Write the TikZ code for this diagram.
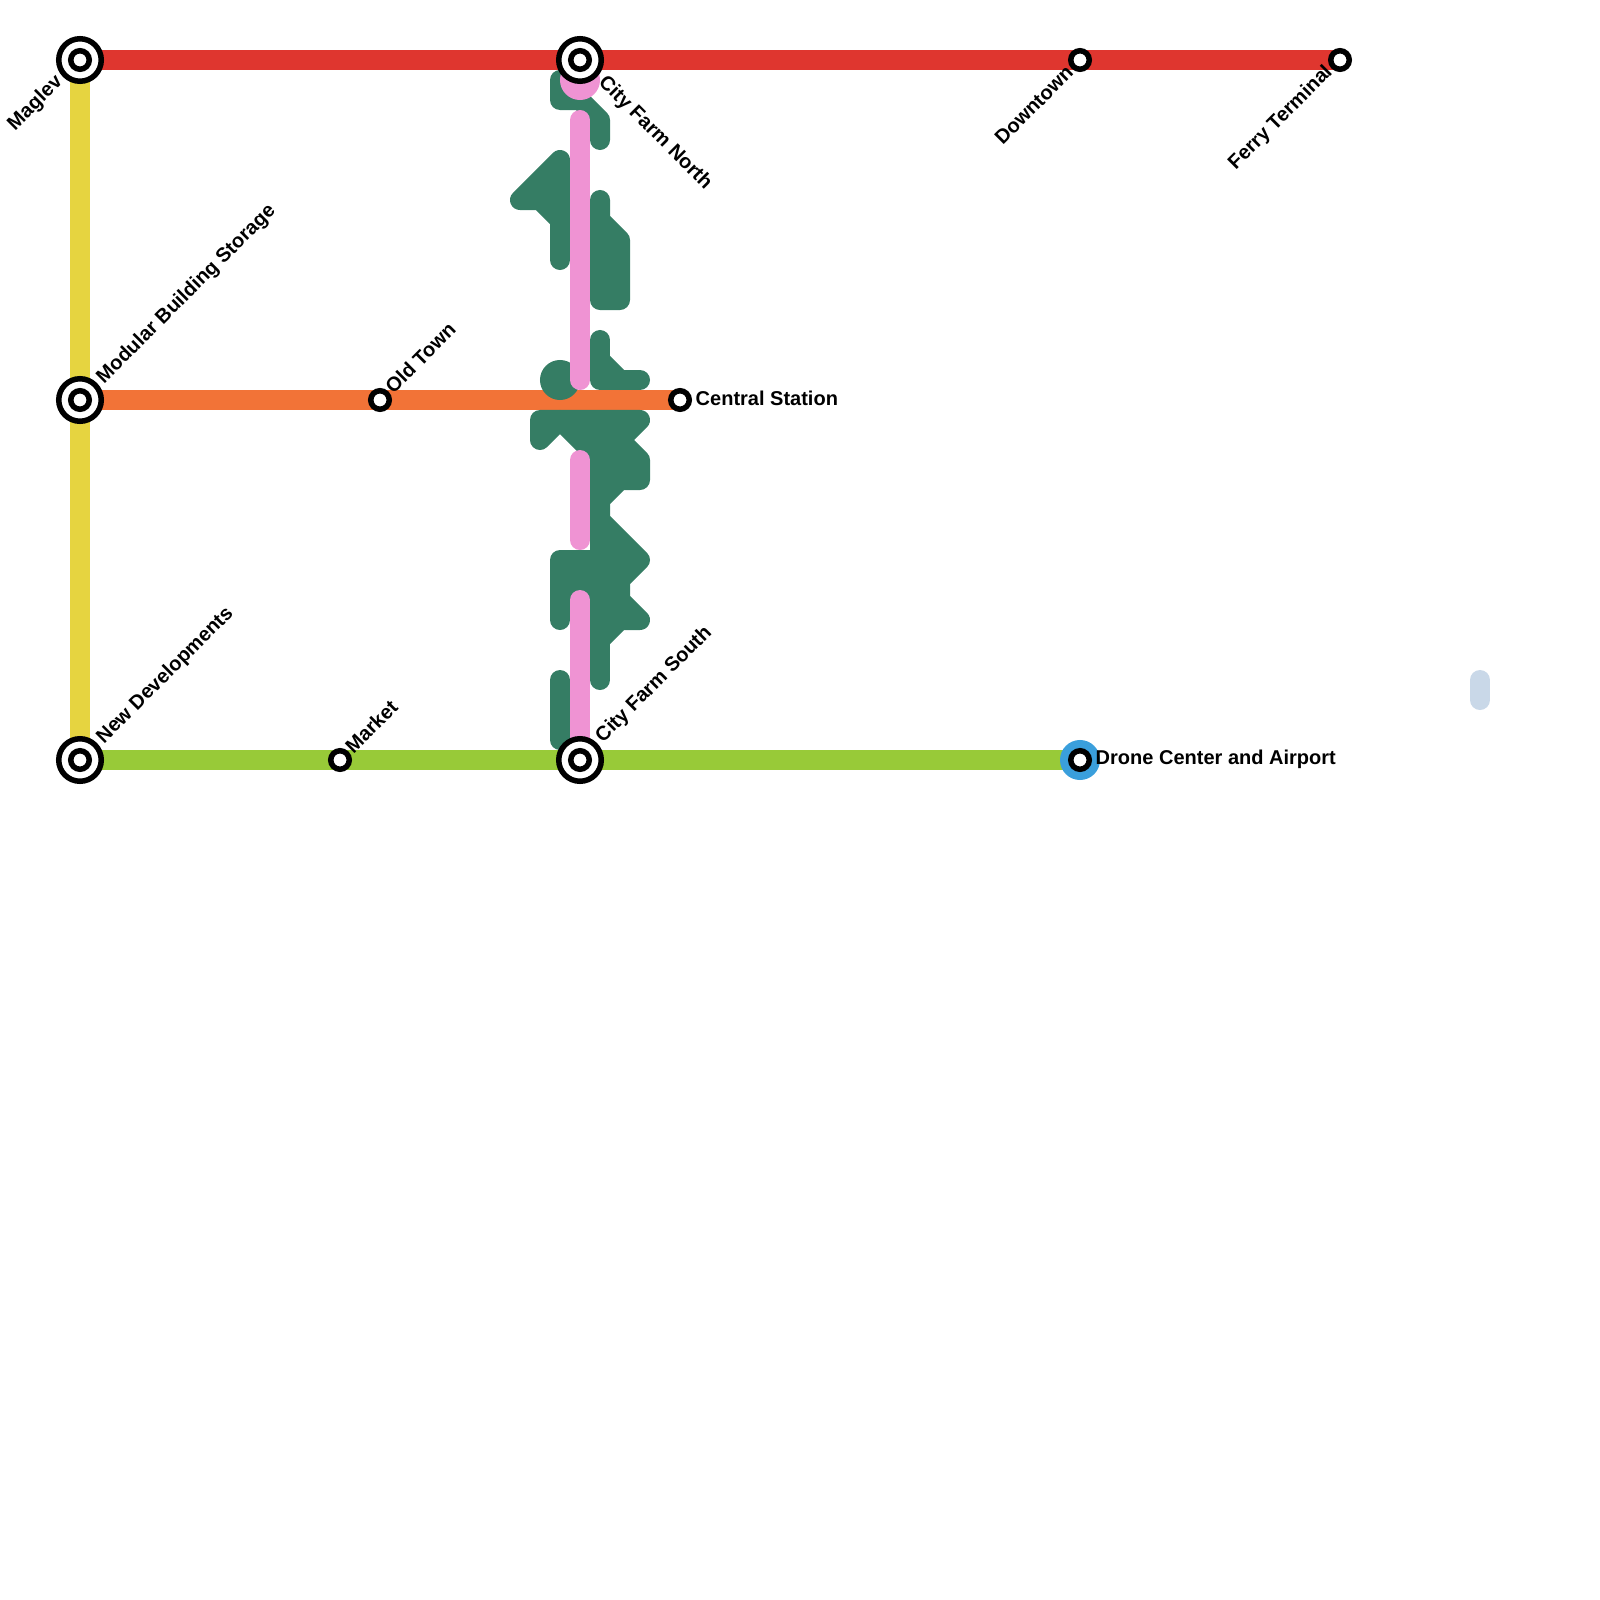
\documentclass[tikz,border=0pt]{standalone}
\usepackage{fontspec}
\setmainfont{Liberation Sans}
\usetikzlibrary{calc}
\definecolor{linered}{HTML}{DF362F}
\definecolor{lineyellow}{HTML}{E6D440}
\definecolor{lineorange}{HTML}{F27337}
\definecolor{linelime}{HTML}{98CA38}
\definecolor{linegreen}{HTML}{357D64}
\definecolor{linepink}{HTML}{EF93D3}
\definecolor{lineblue}{HTML}{3A9FDC}
\definecolor{linepale}{HTML}{C9D8E8}

\begin{document}
\begin{tikzpicture}[
    x=0.01cm, y=-0.01cm,
    metro/.style={line width=0.2cm},
    route/.style={metro, line cap=round, line join=round},
    green/.style={route, linegreen},
    pink/.style={route, linepink},
    hubring/.style={circle, draw=black, fill=white, line width=0.055cm,
        minimum size=0.425cm, inner sep=0pt},
    stop/.style={circle, draw=black, fill=white, line width=0.055cm,
        minimum size=0.185cm, inner sep=0pt},
    stlabel/.style={font=\fontsize{5.69pt}{7pt}\selectfont\bfseries, inner sep=0pt},
    up/.style={stlabel, rotate=45, anchor=west},
    dn/.style={stlabel, rotate=-45, anchor=west},
    back/.style={stlabel, rotate=45, anchor=east}
]
\useasboundingbox (0,0) rectangle (1600,1600);

% stations
\coordinate (maglev) at (80,60);
\coordinate (farmnorth) at (580,60);
\coordinate (downtown) at (1080,60);
\coordinate (ferry) at (1340,60);
\coordinate (modular) at (80,400);
\coordinate (oldtown) at (380,400);
\coordinate (central) at (680,400);
\coordinate (newdev) at (80,760);
\coordinate (market) at (340,760);
\coordinate (farmsouth) at (580,760);
\coordinate (drone) at (1080,760);

% main lines
\draw[metro, lineyellow] (maglev) -- (newdev);
\draw[metro, linered] (maglev) -- (ferry);
\draw[metro, lineorange] (modular) -- (central);
\draw[metro, linelime] (newdev) -- (drone);

% green line pieces
\draw[green] (560,80) -- (560,100) -- (580,100) -- (600,120) -- (600,140);
\draw[green, fill=linegreen] (560,160) -- (520,200) -- (540,200) -- (560,220) -- cycle;
\draw[green] (560,220) -- (560,260);
\draw[green] (600,200) -- (600,300) -- (620,300) -- (620,240) -- (600,220);
\draw[green] (600,340) -- (600,380) -- (640,380);
\draw[green] (600,360) -- (620,380);
\node[circle, fill=linegreen, minimum size=0.4cm, inner sep=0pt] (greendot) at (560,380) {};
\draw[green] (540,440) -- (540,420) -- (560,420) -- (540,440);
\draw[green, fill=linegreen] (560,420) -- (640,420) -- (620,440) -- (640,460) -- (640,480)
    -- (620,480) -- (600,500) -- (600,520) -- (640,560) -- (620,580) -- (620,600)
    -- (640,620) -- (620,620) -- (600,640) -- (600,460) -- cycle;
\draw[green] (560,620) -- (560,560) -- (600,560) -- (600,620) -- (580,620) -- (580,560);
\draw[green] (600,640) -- (600,680);
\draw[green] (560,680) -- (560,740) -- (580,740);

% pink line pieces
\node[circle, fill=linepink, minimum size=0.4cm, inner sep=0pt] (pinkdot) at (580,80) {};
\draw[pink] (580,120) -- (580,380);
\draw[pink] (580,460) -- (580,540);
\draw[pink] (580,600) -- (farmsouth);

% pale stub
\draw[route, linepale] (1480,680) -- (1480,700);

% interchange marks
\node[circle, fill=lineblue, minimum size=0.4cm, inner sep=0pt] (dronedot) at (drone) {};
\foreach \st in {maglev,farmnorth,modular,newdev,farmsouth}
    \node[hubring] (\st ring) at (\st) {};
\foreach \st in {maglev,farmnorth,downtown,ferry,modular,oldtown,central,newdev,market,farmsouth,drone}
    \node[stop] (\st stop) at (\st) {};

% labels
\node[back] (maglevlbl) at ($(maglev)+(-20,19)$) {Maglev};
\node[dn] (farmnorthlbl) at ($(farmnorth)+(21,19)$) {City Farm North};
\node[back] (downtownlbl) at ($(downtown)+(-10,9)$) {Downtown};
\node[back] (ferrylbl) at ($(ferry)+(-10,9)$) {Ferry Terminal};
\node[up] (modularlbl) at ($(modular)+(20,-19)$) {Modular Building Storage};
\node[up] (oldtownlbl) at ($(oldtown)+(8,-10)$) {Old Town};
\node[stlabel, anchor=west] (centrallbl) at ($(central)+(15,-2)$) {Central Station};
\node[up] (newdevlbl) at ($(newdev)+(20,-19)$) {New Developments};
\node[up] (marketlbl) at ($(market)+(8,-10)$) {Market};
\node[up] (farmsouthlbl) at ($(farmsouth)+(19,-20)$) {City Farm South};
\node[stlabel, anchor=west] (dronelbl) at ($(drone)+(15,-1)$) {Drone Center and Airport};
\end{tikzpicture}
\end{document}
